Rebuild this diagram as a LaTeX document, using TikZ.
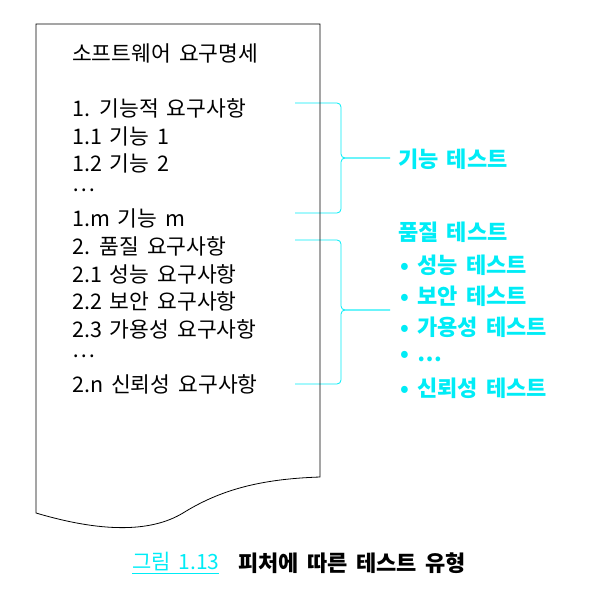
\documentclass[tikz,border=0pt]{standalone}
\usepackage{fontspec}
\setmainfont{Noto Sans CJK KR}[WordSpace=1.65]
\usepackage{tikz}
\definecolor{hlcyan}{RGB}{0,236,246}

\begin{document}
\begin{tikzpicture}[x=1pt,y=-1pt,
        spec/.style={anchor=west,inner sep=0pt,font=\fontsize{21.5}{21.5}\selectfont},
        testlbl/.style={anchor=west,inner sep=0pt,text=hlcyan,font=\fontsize{22}{22}\selectfont\bfseries},
        brace/.style={draw=hlcyan,line width=0.8pt,rounded corners=4pt},
        docline/.style={draw=black,line width=0.8pt}]
        \useasboundingbox (0,0) rectangle (589,602);

        \node (Stitle)  at (72,53)  [spec] {소프트웨어 요구명세};
        \node (Sfunc)   at (72,108) [spec] {1. 기능적 요구사항};
        \node (Sfone)   at (72,136) [spec] {1.1 기능 1};
        \node (Sftwo)   at (72,163) [spec] {1.2 기능 2};
        \node (Sfdots)  at (72,190) [spec] {…};
        \node (Sfm)     at (72,218) [spec] {1.m 기능 m};
        \node (Squal)   at (72,246) [spec] {2. 품질 요구사항};
        \node (Sperf)   at (72,274) [spec] {2.1 성능 요구사항};
        \node (Ssec)    at (72,301) [spec] {2.2 보안 요구사항};
        \node (Savail)  at (72,329) [spec] {2.3 가용성 요구사항};
        \node (Sqdots)  at (72,356) [spec] {…};
        \node (Srel)    at (72,384) [spec] {2.n 신뢰성 요구사항};

        \node (Lfunc)   at (398,159) [testlbl] {기능 테스트};
        \node (Lqual)   at (398,232) [testlbl] {품질 테스트};
        \node (Lperf)   at (400,265) [testlbl] {• 성능 테스트};
        \node (Lsec)    at (400,296) [testlbl] {• 보안 테스트};
        \node (Lavail)  at (400,327) [testlbl] {• 가용성 테스트};
        \node (Lqdots)  at (400,357) [testlbl] {• …};
        \node (Lrel)    at (400,388) [testlbl] {• 신뢰성 테스트};

        % Brace ends
        \coordinate (FTop) at (295,103);
        \coordinate (FBot) at (295,213);
        \coordinate (FMid) at (341,158);
        \coordinate (FTip) at (390,158);
        \coordinate (QTop) at (295,240);
        \coordinate (QBot) at (295,384);
        \coordinate (QMid) at (341,310);
        \coordinate (QTip) at (390,310);

        % Braces to test types
        \foreach \b in {F,Q} {
            \draw[brace] (\b Top) -| (\b Mid) -- (\b Tip);
            \draw[brace] (\b Bot) -| (\b Mid) -- (\b Tip);
        }

        % Page outline with wavy bottom
        \draw[docline] (36,24) -- (320,24) -- (320,477)
                       .. controls (260,479) and (220,490) .. (183,513)
                       .. controls (150,533) and (100,532) .. (36,513)
                       -- cycle;

        % Caption
        \node (Cnum)  at (132,563) [anchor=west,inner sep=0pt,text=hlcyan,font=\fontsize{21}{21}\selectfont] {\underline{그림 1.13}};
        \node (Ctext) at (238,563) [anchor=west,inner sep=0pt,font=\fontsize{22}{22}\selectfont\bfseries] {피처에 따른 테스트 유형};
\end{tikzpicture}
\end{document}
